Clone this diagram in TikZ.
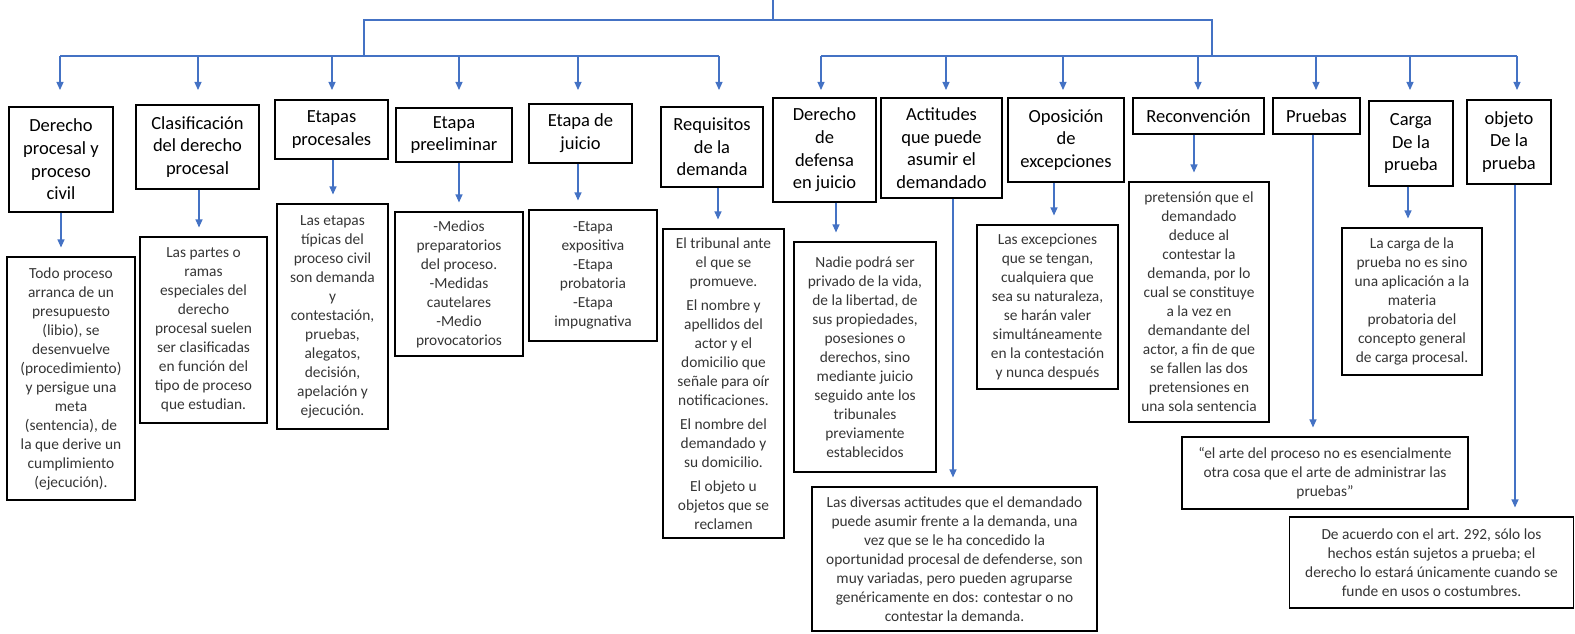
\documentclass[tikz,border=0pt]{standalone}
\usepackage{fontspec}
\setmainfont{Carlito}
\usetikzlibrary{arrows.meta}
\definecolor{lnblue}{HTML}{4472C4}
\definecolor{txtgray}{HTML}{353535}
\begin{document}
\begin{tikzpicture}[x=1pt,y=-1pt,
 hbox/.style={draw=black,line width=1.1pt,inner sep=0pt,align=center,font=\fontsize{18.5}{22.7}\selectfont,text=black},
 dbox/.style={draw=black,line width=1.1pt,inner sep=0pt,align=center,font=\fontsize{15.4}{19}\selectfont,text=txtgray},
 conn/.style={draw=lnblue,line width=1.1pt},
 arr/.style={conn,-{Triangle[length=8pt,width=7pt]}},
 drop/.style={arr,shorten >=9pt}]
\useasboundingbox (0,0) rectangle (1575,634);

% header boxes
\node[hbox,minimum width=104pt,minimum height=105pt] (h1) at (61,159.5) {Derecho\\procesal y\\proceso\\civil};
\node[hbox,minimum width=123pt,minimum height=84pt] (h2) at (197.5,147) {Clasificación\\del derecho\\procesal};
\node[hbox,minimum width=113pt,minimum height=59pt] (h3) at (331.5,129.5) {Etapas\\procesales};
\node[hbox,minimum width=116pt,minimum height=54pt] (h4) at (454,135) {Etapa\\preeliminar};
\node[hbox,minimum width=103pt,minimum height=59pt] (h5) at (580.5,133.5) {Etapa de\\juicio};
\node[hbox,minimum width=102pt,minimum height=80pt] (h6) at (712,147) {Requisitos\\de la\\demanda};
\node[hbox,minimum width=103pt,minimum height=104pt] (h7) at (824.5,150) {Derecho\\de\\defensa\\en juicio};
\node[hbox,minimum width=121pt,minimum height=100pt] (h8) at (941.5,148) {Actitudes\\que puede\\asumir el\\demandado};
\node[hbox,minimum width=116pt,minimum height=84pt] (h9) at (1066,140) {Oposición\\de\\excepciones};
\node[hbox,minimum width=131pt,minimum height=36pt] (h10) at (1198.5,116) {Reconvención};
\node[hbox,minimum width=87pt,minimum height=36pt] (h11) at (1316.5,116) {Pruebas};
\node[hbox,minimum width=84pt,minimum height=85pt] (h12) at (1411,143.5) {Carga\\De la\\prueba};
\node[hbox,minimum width=84pt,minimum height=84pt] (h13) at (1509,142) {objeto\\De la\\prueba};

% description boxes
\node[dbox,minimum width=128pt,minimum height=243pt] (d1) at (71,378.5) {Todo proceso\\arranca de un\\presupuesto\\(libio), se\\desenvuelve\\(procedimiento)\\y persigue una\\meta\\(sentencia), de\\la que derive un\\cumplimiento\\(ejecución).};
\node[dbox,minimum width=127pt,minimum height=186pt] (d2) at (203.5,330) {Las partes o\\ramas\\especiales del\\derecho\\procesal suelen\\ser clasificadas\\en función del\\tipo de proceso\\que estudian.};
\node[dbox,minimum width=111pt,minimum height=225pt] (d3) at (332.5,316.5) {Las etapas\\típicas del\\proceso civil\\son demanda\\y\\contestación,\\pruebas,\\alegatos,\\decisión,\\apelación y\\ejecución.};
\node[dbox,minimum width=128pt,minimum height=144pt] (d4) at (459,284) {-Medios\\preparatorios\\del proceso.\\-Medidas\\cautelares\\-Medio\\provocatorios};
\node[dbox,minimum width=128pt,minimum height=131pt] (d5) at (593,275.5) {-Etapa\\expositiva\\-Etapa\\probatoria\\-Etapa\\impugnativa};
\node[dbox,minimum width=121pt,minimum height=309pt] (d6) at (723.5,383.5) {El tribunal ante\\el que se\\promueve.\\[5pt]El nombre y\\apellidos del\\actor y el\\domicilio que\\señale para oír\\notificaciones.\\[5pt]El nombre del\\demandado y\\su domicilio.\\[5pt]El objeto u\\objetos que se\\reclamen};
\node[dbox,minimum width=142pt,minimum height=230pt] (d7) at (865,357) {Nadie podrá ser\\privado de la vida,\\de la libertad, de\\sus propiedades,\\posesiones o\\derechos, sino\\mediante juicio\\seguido ante los\\tribunales\\previamente\\establecidos};
\node[dbox,minimum width=285pt,minimum height=144pt] (d8) at (954.5,559) {Las diversas actitudes que el demandado\\puede asumir frente a la demanda, una\\vez que se le ha concedido la\\oportunidad procesal de defenderse, son\\muy variadas, pero pueden agruparse\\genéricamente en dos: contestar o no\\contestar la demanda.};
\node[dbox,minimum width=141pt,minimum height=164pt] (d9) at (1047.5,307) {Las excepciones\\que se tengan,\\cualquiera que\\sea su naturaleza,\\se harán valer\\simultáneamente\\en la contestación\\y nunca después};
\node[dbox,minimum width=140pt,minimum height=240pt] (d10) at (1199,302) {pretensión que el\\demandado\\deduce al\\contestar la\\demanda, por lo\\cual se constituye\\a la vez en\\demandante del\\actor, a fin de que\\se fallen las dos\\pretensiones en\\una sola sentencia};
\node[dbox,minimum width=286pt,minimum height=72pt] (d11) at (1325,473) {“el arte del proceso no es esencialmente\\otra cosa que el arte de administrar las\\pruebas”};
\node[dbox,minimum width=140pt,minimum height=147pt] (d12) at (1412,301.5) {La carga de la\\prueba no es sino\\una aplicación a la\\materia\\probatoria del\\concepto general\\de carga procesal.};
\node[dbox,minimum width=284pt,minimum height=91pt] (d13) at (1431.5,562.5) {De acuerdo con el art. 292, sólo los\\hechos están sujetos a prueba; el\\derecho lo estará únicamente cuando se\\funde en usos o costumbres.};

% bus structure
\coordinate (stem) at (773,0);
\coordinate (topL) at (364,20);
\coordinate (topR) at (1212,20);
\coordinate (busL) at (0,56);
\coordinate (busR) at (0,56);
\coordinate (tipT) at (0,90);
\draw[conn] (stem) -- (stem |- topL);
\draw[conn] (topL |- busL) -- (topL) -- (topR) -- (topR |- busR);

% top arrow columns
\coordinate (t1) at (60,0);
\coordinate (t2) at (198,0);
\coordinate (t3) at (332,0);
\coordinate (t4) at (459,0);
\coordinate (t5) at (578,0);
\coordinate (t6) at (719,0);
\coordinate (t7) at (821,0);
\coordinate (t8) at (946,0);
\coordinate (t9) at (1063,0);
\coordinate (t10) at (1198,0);
\coordinate (t11) at (1316,0);
\coordinate (t12) at (1410,0);
\coordinate (t13) at (1517,0);
\draw[conn] (t1 |- busL) -- (t6 |- busL);
\draw[conn] (t7 |- busR) -- (t13 |- busR);
\foreach \i in {1,...,13}{\draw[arr] (t\i |- busL) -- (t\i |- tipT);}

% lower arrow columns
\coordinate (b1) at (61,0);
\coordinate (b2) at (199,0);
\coordinate (b3) at (333,0);
\coordinate (b4) at (459,0);
\coordinate (b5) at (578,0);
\coordinate (b6) at (718,0);
\coordinate (b7) at (836,0);
\coordinate (b8) at (953,0);
\coordinate (b9) at (1054,0);
\coordinate (b10) at (1194,0);
\coordinate (b11) at (1313,0);
\coordinate (b12) at (1408,0);
\coordinate (b13) at (1515,0);
\foreach \i in {1,...,13}{\draw[drop] (b\i |- h\i.south) -- (b\i |- d\i.north);}
\end{tikzpicture}
\end{document}
